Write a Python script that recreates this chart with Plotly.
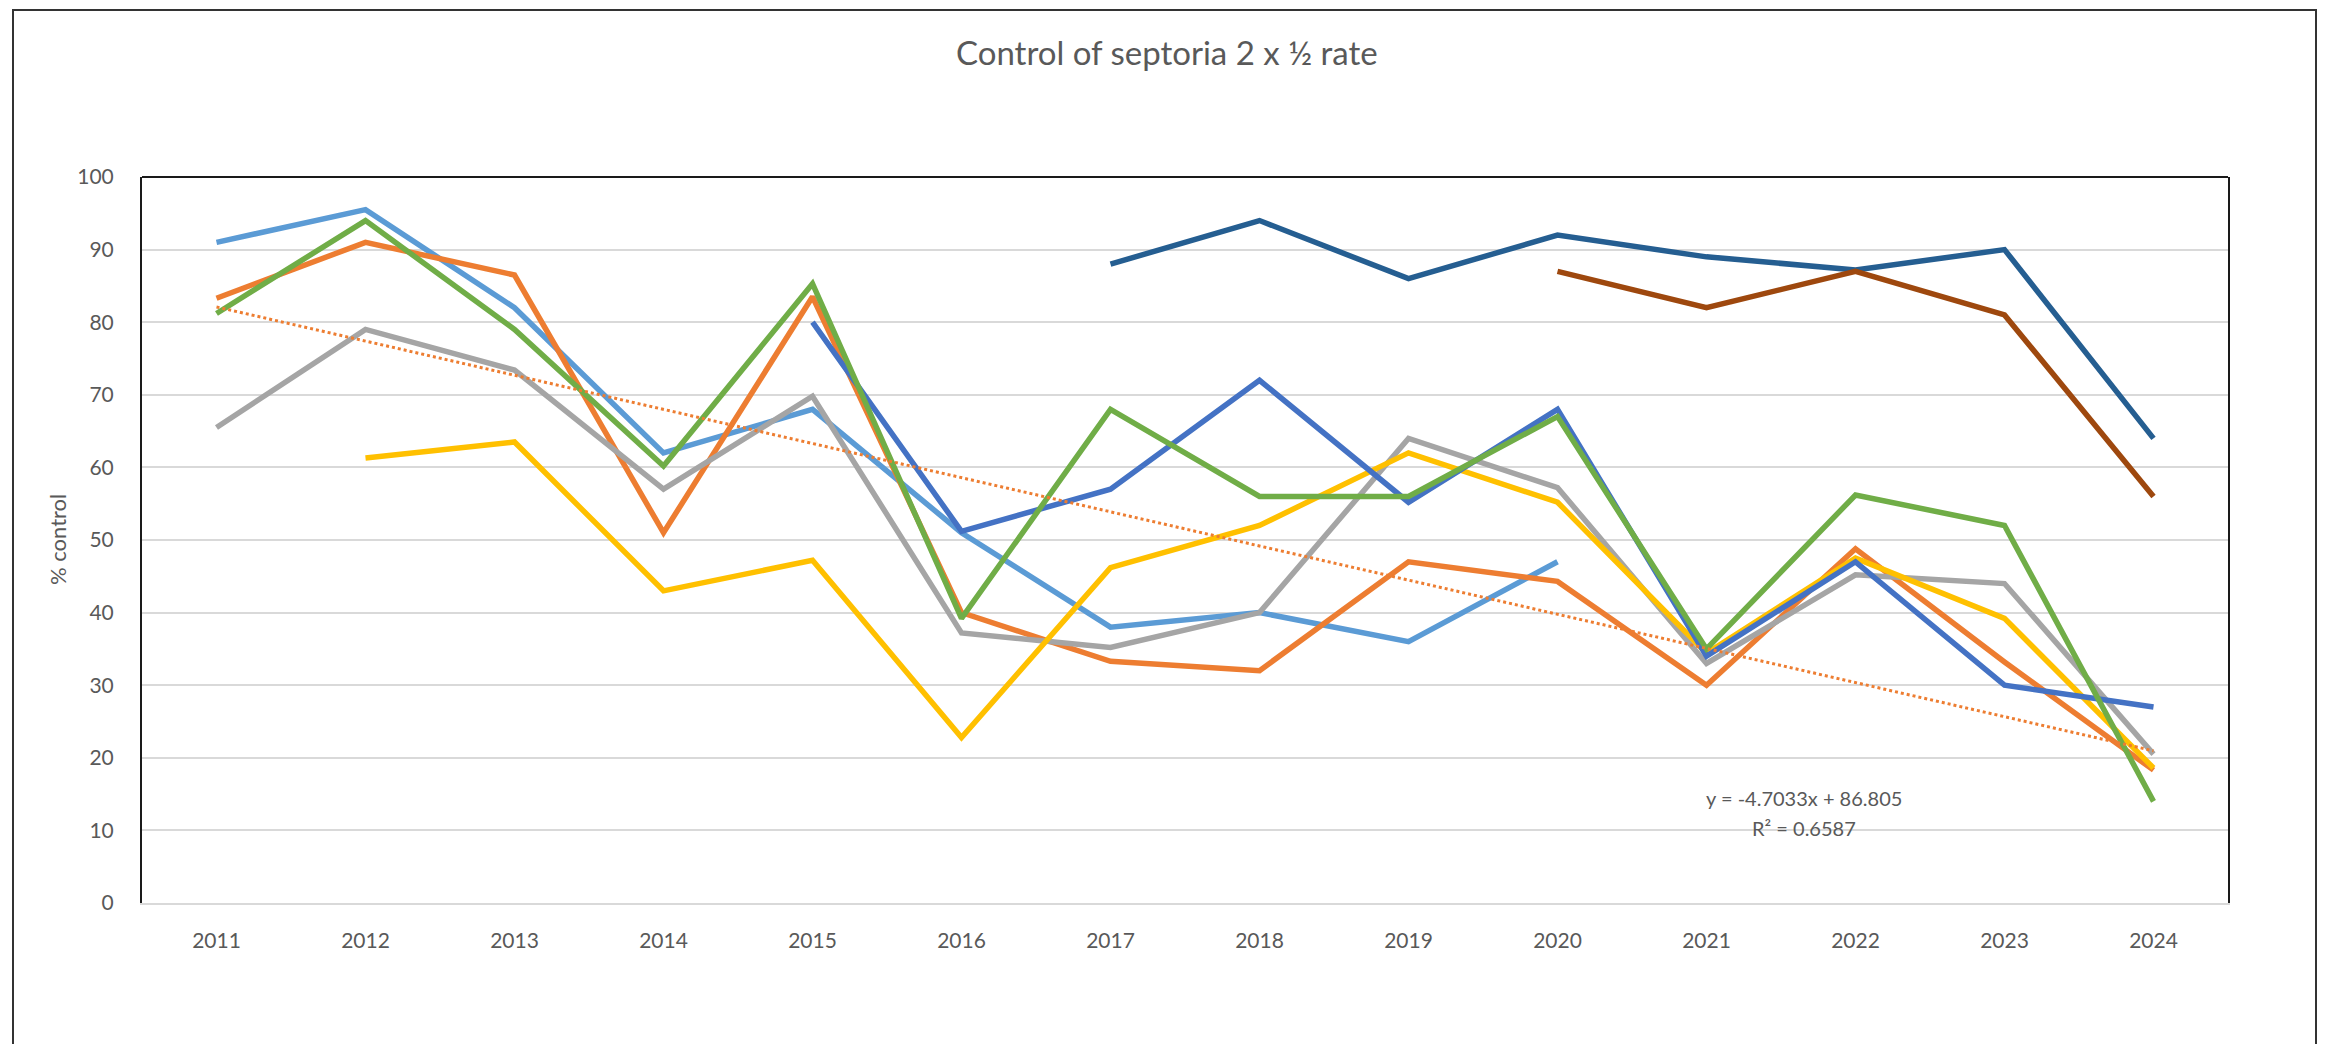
import plotly.graph_objects as go

years = ["2011", "2012", "2013", "2014", "2015", "2016", "2017", "2018", "2019", "2020", "2021", "2022", "2023", "2024"]

s_lightblue = [91, 95.5, 82, 62, 68, 51, 38, 40, 36, 47, None, None, None, None]
s_orange = [83.3, 91, 86.5, 51, 83.5, 40, 33.3, 32, 47, 44.3, 30, 48.8, 33.2, 18.3]
s_gray = [65.5, 79, 73.4, 57, 69.8, 37.2, 35.2, 40, 64, 57.2, 33, 45.2, 44, 20.5]
s_yellow = [None, 61.3, 63.5, 43, 47.2, 22.8, 46.2, 52, 62, 55.2, 34.4, 47.5, 39.2, 18.6]
s_blue = [None, None, None, None, 80, 51.2, 57, 72, 55.2, 68, 34, 47, 30, 27]
s_green = [81.2, 94, 79, 60.2, 85.3, 39.2, 68, 56, 56, 67, 35, 56.2, 52, 14]
s_darkblue = [None, None, None, None, None, None, 88, 94, 86, 92, 89, 87.2, 90, 64]
s_brown = [None, None, None, None, None, None, None, None, None, 87, 82, 87, 81, 56]

trend_slope = -4.7033
trend_intercept = 86.805
trend_label = "y = -4.7033x + 86.805"
r2_label = "R² = 0.6587"

series = [
    (s_lightblue, "#5B9BD5"),
    (s_orange, "#ED7D31"),
    (s_gray, "#A5A5A5"),
    (s_yellow, "#FFC000"),
    (s_blue, "#4472C4"),
    (s_green, "#70AD47"),
    (s_darkblue, "#255E91"),
    (s_brown, "#9E480E"),
]

FONT = "Lato, 'Open Sans', sans-serif"
TXT = "#595959"

fig = go.Figure()
for vals, col in series:
    fig.add_trace(go.Scatter(x=years, y=vals, mode="lines",
                             line=dict(color=col, width=5.5), connectgaps=False,
                             showlegend=False, hoverinfo="skip"))

trend_vals = [trend_slope * (i + 1) + trend_intercept for i in range(len(years))]
fig.add_trace(go.Scatter(x=years, y=trend_vals, mode="lines",
                         line=dict(color="#ED7D31", width=3, dash="dot"),
                         showlegend=False, hoverinfo="skip"))

OFF = 8  # page body margin offset
W, H = 2325 - 2 * OFF, 1052 - 2 * OFF
L, R, T, B = 142 - OFF, 2228 - OFF, 177 - OFF, 903 - OFF
pw, ph = R - L, B - T

def px(xp):
    return (xp - OFF - L) / pw

def py(yp):
    return (B - (yp - OFF)) / ph

fig.update_layout(
    width=W, height=H,
    margin=dict(l=L, r=W - R, t=T, b=H - B),
    paper_bgcolor="white", plot_bgcolor="white",
    font=dict(family=FONT, size=21, color=TXT),
    xaxis=dict(type="category", range=[-0.5, 13.5], showgrid=False,
               showline=True, linecolor="#D9D9D9", linewidth=2,
               ticks="", ticklabelstandoff=18,
               tickfont=dict(family=FONT, size=21, color=TXT)),
    yaxis=dict(range=[0, 100], dtick=10, tick0=0, showgrid=True,
               gridcolor="#D9D9D9", gridwidth=2, zeroline=False,
               showline=True, linecolor="#1a1a1a", linewidth=2, mirror=True,
               ticks="", ticklabelstandoff=22,
               tickfont=dict(family=FONT, size=21, color=TXT)),
    shapes=[
        dict(type="line", xref="paper", yref="paper", x0=0, x1=1, y0=1, y1=1,
             line=dict(color="#1a1a1a", width=2)),
        dict(type="rect", xref="paper", yref="paper",
             x0=px(13), x1=px(2316), y0=py(10), y1=py(1070),
             line=dict(color="#333333", width=2), fillcolor="rgba(0,0,0,0)"),
    ],
    annotations=[
        dict(text="Control of septoria 2 x ½ rate", xref="paper", yref="paper",
             x=px(1167), y=py(52), xanchor="center", yanchor="middle",
             showarrow=False, font=dict(family=FONT, size=33, color=TXT)),
        dict(text="% control", xref="paper", yref="paper",
             x=px(57), y=py(540), xanchor="center", yanchor="middle",
             textangle=-90, showarrow=False,
             font=dict(family=FONT, size=22, color=TXT)),
        dict(text=trend_label, xref="paper", yref="paper",
             x=px(1804), y=py(798), xanchor="center", yanchor="middle",
             showarrow=False, font=dict(family=FONT, size=20, color=TXT)),
        dict(text=r2_label, xref="paper", yref="paper",
             x=px(1804), y=py(828), xanchor="center", yanchor="middle",
             showarrow=False, font=dict(family=FONT, size=20, color=TXT)),
    ],
)

fig.write_html("out.html")
